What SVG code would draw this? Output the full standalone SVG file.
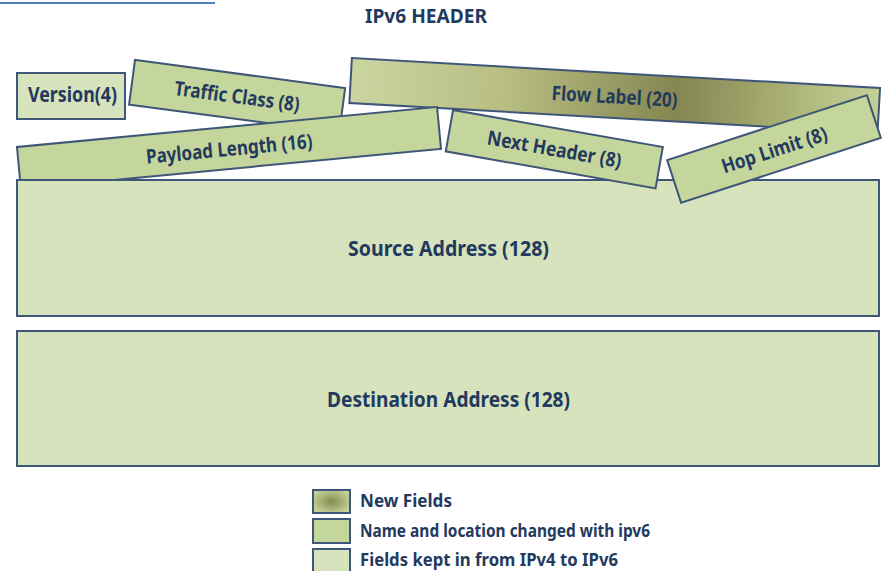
<svg xmlns="http://www.w3.org/2000/svg" width="885" height="571" viewBox="0 0 885 571">
  <style>
    .box { stroke: #3e5678; stroke-width: 2; stroke-linejoin: miter; }
    .kept { fill: #d7e3bc; }
    .moved { fill: #c4d69c; }
    .new { fill: url(#flowGrad); }
    .lbl { font-family: "Noto Sans", "Open Sans", "Liberation Sans", sans-serif; font-weight: bold; fill: #233a5e; text-anchor: middle; }
    .leg { font-family: "Noto Sans", "Open Sans", "Liberation Sans", sans-serif; font-weight: bold; fill: #233a5e; font-size: 17px; }
  </style>
  <defs>
    <linearGradient id="flowGrad" x1="0" y1="0" x2="1" y2="0">
      <stop offset="0" stop-color="#cbd5a1"/>
      <stop offset="0.3" stop-color="#b7bd82"/>
      <stop offset="0.62" stop-color="#858650"/>
      <stop offset="0.86" stop-color="#b0b87c"/>
      <stop offset="1" stop-color="#c6d096"/>
    </linearGradient>
    <radialGradient id="newGrad" cx="0.5" cy="0.5" r="0.55">
      <stop offset="0" stop-color="#868a4f"/>
      <stop offset="1" stop-color="#c3d199"/>
    </radialGradient>
  </defs>

  <!-- accent rule at top -->
  <line x1="0" y1="3" x2="215" y2="3" stroke="#4f81bd" stroke-width="2"/>

  <text class="lbl" x="426" y="23" font-size="19" textLength="122" lengthAdjust="spacingAndGlyphs">IPv6 HEADER</text>

  <g id="version">
    <rect class="box kept" x="17" y="73" width="108" height="46"/>
    <text class="lbl" x="72.5" y="102" font-size="21" textLength="89" lengthAdjust="spacingAndGlyphs">Version(4)</text>
  </g>

  <g id="traffic-class" transform="translate(237.1,96.3) rotate(7.6)">
    <rect class="box moved" x="-106" y="-22.5" width="212" height="45"/>
    <text class="lbl" x="0" y="7" font-size="20" textLength="126" lengthAdjust="spacingAndGlyphs">Traffic Class (8)</text>
  </g>

  <g id="flow-label" transform="translate(614.7,95.5) rotate(3.25)">
    <rect class="box new" x="-264.5" y="-22.5" width="529" height="45"/>
    <text class="lbl" x="0" y="8" font-size="20" textLength="126" lengthAdjust="spacingAndGlyphs">Flow Label (20)</text>
  </g>

  <g id="payload-length" transform="translate(229,147.9) rotate(-5.44)">
    <rect class="box moved" x="-211" y="-21" width="422" height="42"/>
    <text class="lbl" x="0" y="8" font-size="20" textLength="167" lengthAdjust="spacingAndGlyphs">Payload Length (16)</text>
  </g>

  <g id="source-address">
    <rect class="box kept" x="17" y="180" width="862" height="136"/>
    <text class="lbl" x="448.5" y="256" font-size="21" textLength="201" lengthAdjust="spacingAndGlyphs">Source Address (128)</text>
  </g>

  <g id="next-header" transform="translate(554.4,149.2) rotate(10)">
    <rect class="box moved" x="-106.6" y="-21" width="213" height="42"/>
    <text class="lbl" x="0" y="7" font-size="20" textLength="136" lengthAdjust="spacingAndGlyphs">Next Header (8)</text>
  </g>

  <g id="hop-limit" transform="translate(774,149) rotate(-18)">
    <rect class="box moved" x="-105" y="-22.5" width="210" height="45"/>
    <text class="lbl" x="0" y="8" font-size="20" textLength="110" lengthAdjust="spacingAndGlyphs">Hop Limit (8)</text>
  </g>

  <g id="destination-address">
    <rect class="box kept" x="17" y="331" width="862" height="135"/>
    <text class="lbl" x="448.5" y="407" font-size="21" textLength="243" lengthAdjust="spacingAndGlyphs">Destination Address (128)</text>
  </g>

  <!-- key -->
  <g id="legend">
    <rect class="box" fill="url(#newGrad)" x="313" y="490" width="37" height="23"/>
    <text class="leg" x="360" y="507" textLength="92" lengthAdjust="spacingAndGlyphs">New Fields</text>
    <rect class="box moved" x="313" y="519" width="37" height="24"/>
    <text class="leg" x="360" y="537" textLength="290" lengthAdjust="spacingAndGlyphs">Name and location changed with ipv6</text>
    <rect class="box kept" x="313" y="549" width="37" height="24"/>
    <text class="leg" x="360" y="566" textLength="258" lengthAdjust="spacingAndGlyphs">Fields kept in from IPv4 to IPv6</text>
  </g>
</svg>
